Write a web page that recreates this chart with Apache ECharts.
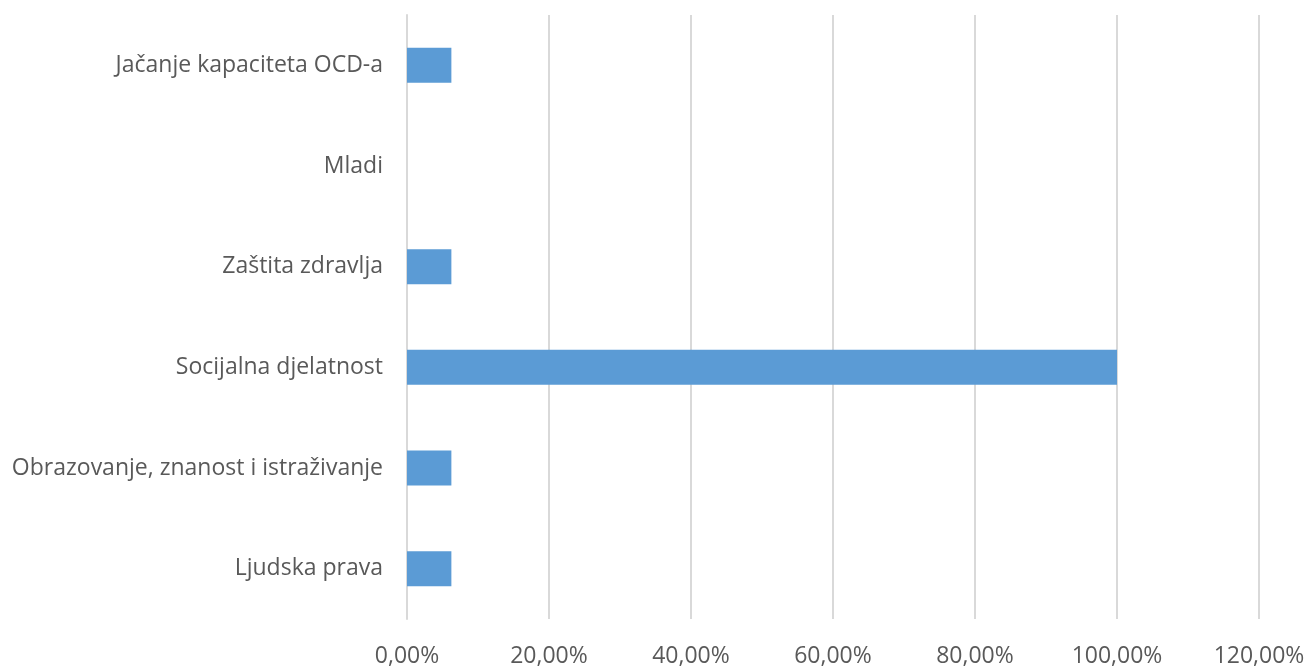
<!DOCTYPE html>
<html><head><meta charset="utf-8">
<script src="https://cdn.jsdelivr.net/npm/echarts@6/dist/echarts.min.js"></script>
<style>html,body{margin:0;padding:0;background:#fff}#c{width:1309px;height:668px}</style>
</head><body><div id="c"></div>
<script>
const categories = ["Ljudska prava","Obrazovanje, znanost i istraživanje","Socijalna djelatnost","Zaštita zdravlja","Mladi","Jačanje kapaciteta OCD-a"];
const values = [6.25, 6.25, 100, 6.25, 0, 6.25];
const xTicks = {min:0, max:120, interval:20};
const chart = echarts.init(document.getElementById('c'));
chart.setOption({
  animation:false,
  grid:{left:407,right:50,top:15,bottom:45,containLabel:false},
  xAxis:{type:'value',min:xTicks.min,max:xTicks.max,interval:xTicks.interval,
    axisLine:{show:false},axisTick:{show:false},
    splitLine:{lineStyle:{color:'#D9D9D9',width:2}},
    axisLabel:{margin:26,color:'#595959',fontFamily:'Open Sans',fontSize:23,
      formatter:v=>v.toFixed(2).replace('.',',')+'%'}},
  yAxis:{type:'category',data:categories,
    axisLine:{show:true,lineStyle:{color:'#D9D9D9',width:2}},axisTick:{show:false},
    axisLabel:{margin:24,color:'#595959',fontFamily:'Open Sans',fontSize:23}},
  series:[{type:'bar',data:values,barWidth:35,itemStyle:{color:'#5B9BD5'}}]
});
</script></body></html>
